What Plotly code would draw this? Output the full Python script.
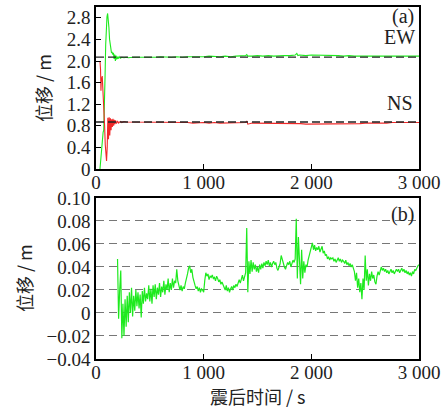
import plotly.graph_objects as go
from plotly.subplots import make_subplots

# ---- Panel (a): EW / NS displacement ----
ew_t = [37, 45, 52, 60, 66, 72, 78, 84, 90, 96,
        102, 108, 114, 120, 126, 132, 138, 144, 150, 156,
        162, 168, 174, 180, 186, 192, 198, 205, 215, 225,
        240, 260, 280, 300, 350, 400, 450, 500, 550, 600,
        650, 700, 750, 800, 850, 900, 950, 1000, 1050, 1100,
        1150, 1200, 1250, 1300, 1350, 1390, 1400, 1410, 1450, 1500,
        1550, 1600, 1650, 1700, 1750, 1800, 1850, 1865, 1875, 1890,
        1950, 2000, 2050, 2100, 2150, 2200, 2250, 2300, 2350, 2400,
        2450, 2500, 2550, 2600, 2650, 2700, 2750, 2800, 2850, 2900,
        2950, 3000]
ew_v = [0.00, 0.20, 0.38, 0.60, 0.68, 0.72, 1.10, 1.70, 2.30, 2.65,
        2.82, 2.88, 2.78, 2.62, 2.40, 2.30, 2.20, 2.15, 2.16, 2.12,
        2.15, 2.04, 2.12, 2.00, 2.10, 2.03, 2.08, 2.04, 2.08, 2.05,
        2.07, 2.06, 2.07, 2.06, 2.07, 2.07, 2.06, 2.07, 2.07, 2.08,
        2.07, 2.07, 2.08, 2.07, 2.08, 2.08, 2.07, 2.08, 2.09, 2.08,
        2.08, 2.09, 2.08, 2.09, 2.09, 2.10, 2.12, 2.09, 2.09, 2.10,
        2.09, 2.10, 2.09, 2.10, 2.10, 2.10, 2.11, 2.14, 2.10, 2.11,
        2.10, 2.11, 2.11, 2.10, 2.11, 2.10, 2.10, 2.09, 2.10, 2.09,
        2.09, 2.08, 2.09, 2.09, 2.08, 2.09, 2.09, 2.08, 2.09, 2.09,
        2.08, 2.09]

ns_t = [37, 42, 46, 50, 54, 58, 62, 68, 74, 80,
        86, 92, 98, 104, 110, 116, 122, 128, 134, 140,
        146, 152, 158, 164, 170, 176, 182, 190, 200, 210,
        225, 240, 260, 280, 300, 350, 400, 450, 500, 550,
        600, 650, 700, 750, 800, 850, 900, 950, 1000, 1050,
        1100, 1150, 1200, 1250, 1300, 1350, 1390, 1400, 1410, 1450,
        1500, 1550, 1600, 1650, 1700, 1750, 1800, 1850, 1900, 1950,
        2000, 2050, 2100, 2150, 2200, 2250, 2300, 2350, 2400, 2450,
        2500, 2550, 2600, 2650, 2700, 2750, 2800, 2850, 2900, 2950,
        3000]
ns_v = [1.99, 1.85, 1.45, 1.70, 1.62, 1.72, 1.55, 1.50, 1.20, 0.80,
        0.45, 0.25, 0.15, 0.40, 0.95, 0.55, 0.96, 0.62, 0.94, 0.72,
        0.92, 0.78, 0.93, 0.80, 0.91, 0.83, 0.90, 0.84, 0.89, 0.85,
        0.88, 0.86, 0.88, 0.87, 0.87, 0.87, 0.86, 0.87, 0.87, 0.86,
        0.87, 0.86, 0.86, 0.87, 0.86, 0.86, 0.85, 0.86, 0.86, 0.85,
        0.86, 0.85, 0.85, 0.86, 0.85, 0.86, 0.86, 0.89, 0.83, 0.85,
        0.85, 0.84, 0.85, 0.84, 0.85, 0.84, 0.84, 0.85, 0.84, 0.83,
        0.83, 0.83, 0.84, 0.83, 0.83, 0.84, 0.83, 0.84, 0.84, 0.84,
        0.85, 0.85, 0.84, 0.85, 0.85, 0.86, 0.86, 0.86, 0.86, 0.86,
        0.86]

ref_ew = 2.07
ref_ns = 0.87

# ---- Panel (b): residual displacement, sampled every 10 s from 200 s ----
b_start = 200
b_step = 10
b_v = [0.047, -0.005, 0.020, 0.037, -0.022, 0.008, -0.020, 0.012, -0.012, 0.015,
       -0.008, 0.018, 0.000, 0.022, -0.003, 0.015, 0.002, 0.020, 0.006, 0.018,
       0.004, 0.016, -0.004, 0.019, 0.008, 0.022, 0.010, 0.017, 0.012, 0.024,
       0.010, 0.021, 0.008, 0.024, 0.014, 0.025, 0.012, 0.022, 0.016, 0.026,
       0.014, 0.023, 0.018, 0.028, 0.016, 0.025, 0.020, 0.030, 0.018, 0.026,
       0.020, 0.030, 0.022, 0.028, 0.026, 0.038, 0.028, 0.023, 0.020, 0.024,
       0.019, 0.023, 0.021, 0.026, 0.029, 0.034, 0.039, 0.041, 0.035, 0.038,
       0.031, 0.026, 0.024, 0.021, 0.023, 0.019, 0.022, 0.018, 0.021, 0.020,
       0.018, 0.028, 0.035, 0.032, 0.034, 0.029, 0.032, 0.031, 0.033, 0.030,
       0.031, 0.028, 0.032, 0.030, 0.027, 0.029, 0.025, 0.027, 0.024, 0.022,
       0.020, 0.024, 0.019, 0.022, 0.018, 0.021, 0.023, 0.020, 0.024, 0.022,
       0.025, 0.023, 0.027, 0.029, 0.026, 0.030, 0.033, 0.028, 0.031, 0.035,
       0.074, 0.018, 0.045, 0.034, 0.046, 0.036, 0.044, 0.038, 0.042, 0.036,
       0.040, 0.035, 0.042, 0.038, 0.043, 0.039, 0.044, 0.041, 0.045, 0.042,
       0.046, 0.041, 0.044, 0.040, 0.043, 0.045, 0.042, 0.044, 0.039, 0.037,
       0.040, 0.043, 0.050, 0.046, 0.043, 0.040, 0.038, 0.041, 0.044, 0.042,
       0.045, 0.040, 0.043, 0.046, 0.044, 0.047, 0.082, 0.030, 0.066, 0.038,
       0.025, 0.055, 0.030, 0.045, 0.035, 0.042, 0.040, 0.046, 0.050, 0.055,
       0.058, 0.061, 0.055, 0.059, 0.054, 0.057, 0.055, 0.058, 0.053, 0.056,
       0.058, 0.052, 0.054, 0.050, 0.051, 0.047, 0.049, 0.046, 0.048, 0.047,
       0.048, 0.045, 0.047, 0.044, 0.046, 0.048, 0.045, 0.047, 0.044, 0.046,
       0.045, 0.043, 0.046, 0.042, 0.044, 0.041, 0.043, 0.040, 0.042, 0.039,
       0.036, 0.028, 0.035, 0.022, 0.030, 0.018, 0.026, 0.012, 0.030, 0.020,
       0.050, 0.028, 0.038, 0.024, 0.034, 0.028, 0.036, 0.030, 0.033, 0.027,
       0.025, 0.032, 0.036, 0.033, 0.038, 0.040, 0.037, 0.039, 0.036, 0.038,
       0.035, 0.037, 0.034, 0.036, 0.038, 0.035, 0.037, 0.034, 0.036, 0.038,
       0.036, 0.038, 0.035, 0.037, 0.039, 0.036, 0.038, 0.035, 0.037, 0.034,
       0.036, 0.033, 0.035, 0.032, 0.036, 0.034, 0.038, 0.037, 0.040, 0.041,
       0.042]
b_t = [b_start + b_step * i for i in range(len(b_v))]

x_ticks = [0, 1000, 2000, 3000]
x_ticktext = ["0", "1 000", "2 000", "3 000"]
ya_ticks = [0, 0.4, 0.8, 1.2, 1.6, 2.0, 2.4, 2.8]
ya_ticktext = ["0", "0.4", "0.8", "1.2", "1.6", "2.0", "2.4", "2.8"]
yb_ticks = [-0.04, -0.02, 0, 0.02, 0.04, 0.06, 0.08, 0.10]
yb_ticktext = ["\u22120.04", "\u22120.02", "0", "0.02", "0.04", "0.06", "0.08", "0.10"]

GREEN = "#1eea1e"
RED = "#f02828"
FONT = "Liberation Serif, Times New Roman, Noto Sans CJK SC, serif"
CJK = "Noto Sans CJK SC, Liberation Serif, serif"

fig = make_subplots(rows=2, cols=1, vertical_spacing=0.0)

fig.add_trace(go.Scatter(x=ew_t, y=ew_v, mode="lines", line=dict(color=GREEN, width=1.1)), row=1, col=1)
fig.add_trace(go.Scatter(x=ns_t, y=ns_v, mode="lines", line=dict(color=RED, width=1.1)), row=1, col=1)
fig.add_trace(go.Scatter(x=[0, 3000], y=[ref_ew, ref_ew], mode="lines",
                         line=dict(color="#222222", width=1.3, dash="8px,4px")), row=1, col=1)
fig.add_trace(go.Scatter(x=[0, 3000], y=[ref_ns, ref_ns], mode="lines",
                         line=dict(color="#222222", width=1.3, dash="8px,4px")), row=1, col=1)
fig.add_trace(go.Scatter(x=b_t, y=b_v, mode="lines", line=dict(color=GREEN, width=1.2)), row=2, col=1)

axis_common = dict(showline=True, linecolor="black", linewidth=1.5, mirror=True, automargin=False,
                   tickfont=dict(family=FONT, size=19, color="#222222"), zeroline=False)

fig.update_xaxes(range=[0, 3000], tickvals=x_ticks, ticktext=x_ticktext, ticklabelstandoff=-5,
                 ticks="inside", ticklen=5, tickcolor="black", showgrid=False, **axis_common)
fig.update_yaxes(range=[0, 3.0], tickvals=ya_ticks, ticktext=ya_ticktext,
                 ticks="inside", ticklen=5, tickcolor="black", showgrid=False,
                 row=1, col=1, **axis_common)
fig.update_yaxes(range=[-0.04, 0.10], tickvals=yb_ticks, ticktext=yb_ticktext,
                 ticks="", showgrid=True, gridcolor="#777777", gridwidth=1.2, griddash="8px,5px",
                 row=2, col=1, **axis_common)

fig.update_layout(
    width=441, height=411,
    margin=dict(l=96, r=22, t=7, b=52),
    paper_bgcolor="white", plot_bgcolor="white",
    showlegend=False,
    yaxis=dict(domain=[0.5398, 1.0]),
    yaxis2=dict(domain=[0.0, 0.4574]),
)

ann_font = dict(family=FONT, size=20, color="#222222")
fig.add_annotation(text="(a)", xref="x", yref="y", x=2850, y=2.82, showarrow=False, font=ann_font)
fig.add_annotation(text="EW", xref="x", yref="y", x=2820, y=2.45, showarrow=False, font=ann_font)
fig.add_annotation(text="NS", xref="x", yref="y", x=2820, y=1.22, showarrow=False, font=ann_font)
fig.add_annotation(text="(b)", xref="x2", yref="y2", x=2850, y=0.086, showarrow=False, font=ann_font)

title_font = dict(family=CJK, size=18, color="#222222")
fig.add_annotation(text="位移 / m", textangle=-90, xref="paper", yref="paper",
                   x=-0.164, xanchor="center", y=0.77, yanchor="middle", showarrow=False, font=title_font)
fig.add_annotation(text="位移 / m", textangle=-90, xref="paper", yref="paper",
                   x=-0.223, xanchor="center", y=0.23, yanchor="middle", showarrow=False, font=title_font)
fig.add_annotation(text="震后时间 / s", xref="paper", yref="paper",
                   x=0.5, xanchor="center", y=-0.148, yanchor="bottom", showarrow=False, font=title_font)

fig.write_html("out.html", config={"displayModeBar": False},
               post_script="document.body.style.margin='0';")
